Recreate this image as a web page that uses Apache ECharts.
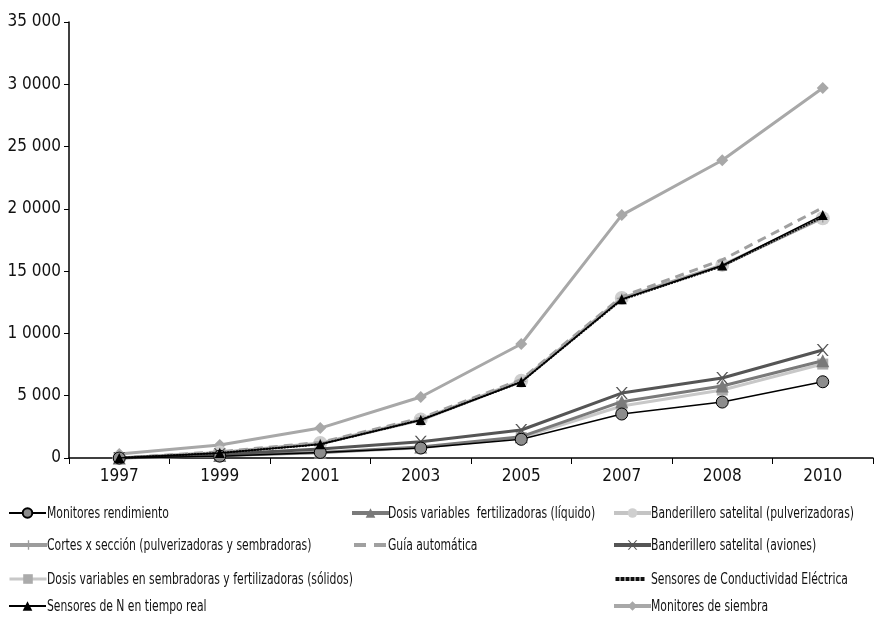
<!DOCTYPE html>
<html><head><meta charset="utf-8">
<script src="https://cdn.jsdelivr.net/npm/echarts@6/dist/echarts.min.js"></script>
<style>html,body{margin:0;padding:0;background:#fff}#c{width:884px;height:624px}</style>
</head><body><div id="c"></div>
<script>
var years = ['1997','1999','2001','2003','2005','2007','2008','2010'];
var yTickLabels = ['0','5 000','1 0000','15 000','2 0000','25 000','3 0000','35 000'];
var monitoresRendimiento = [0, 150, 450, 800, 1500, 3530, 4490, 6120];
var dosisLiquido = [0, 200, 450, 880, 1710, 4520, 5780, 7810];
var bandPulv = [0, 450, 1200, 3100, 6200, 12850, 15500, 19250];
var cortes = [0, 420, 1150, 3050, 6150, 12800, 15450, 19300];
var guia = [0, 500, 1250, 3200, 6300, 12950, 15900, 20100];
var bandAviones = [0, 300, 720, 1310, 2250, 5210, 6420, 8670];
var dosisSolidos = [0, 180, 420, 820, 1650, 4170, 5460, 7540];
var conductividad = [0, 400, 1100, 3050, 6100, 12700, 15400, 19350];
var sensoresN = [0, 400, 1100, 3050, 6100, 12750, 15450, 19500];
var monitoresSiembra = [320, 1050, 2400, 4900, 9150, 19500, 23900, 29700];

var FONT = '"DejaVu Sans Condensed", "Liberation Sans", sans-serif';
var X_PATH = 'path://M0,0L1.4,0L5,3.6L8.6,0L10,0L5.7,4.3L10,8.6L8.6,8.6L5,5L1.4,8.6L0,8.6L4.3,4.3Z';
var PLUS_PATH = 'path://M4.3,0L5.7,0L5.7,4.3L10,4.3L10,5.7L5.7,5.7L5.7,10L4.3,10L4.3,5.7L0,5.7L0,4.3L4.3,4.3Z';
var DASH_ICON = 'path://M0,0H12V4H0Z M20,0H32V4H20Z';
var DOT_ICON = 'path://M0,0H4V4H0Z M5,0H9V4H5Z M10,0H14V4H10Z M15,0H19V4H15Z M20,0H24V4H20Z M25,0H29V4H25Z';

var names = {
  mr: 'Monitores rendimiento',
  dl: 'Dosis variables  fertilizadoras (líquido)',
  bp: 'Banderillero satelital (pulverizadoras)',
  cs: 'Cortes x sección (pulverizadoras y sembradoras)',
  ga: 'Guía automática',
  ba: 'Banderillero satelital (aviones)',
  ds: 'Dosis variables en sembradoras y fertilizadoras (sólidos)',
  ce: 'Sensores de Conductividad Eléctrica',
  sn: 'Sensores de N en tiempo real',
  ms: 'Monitores de siembra'
};

function ser(name, data, lineColor, width, type, symbol, size, markColor, border, z) {
  return {
    name: name, type: 'line', data: data, z: z,
    symbol: symbol, symbolSize: size, showSymbol: symbol !== 'none',
    lineStyle: { color: lineColor, width: width, type: type },
    itemStyle: { color: markColor, borderColor: border || markColor, borderWidth: border ? 1 : 0 },
    emphasis: { disabled: true },
    animation: false
  };
}

var series = [
  ser(names.ms, monitoresSiembra, '#a8a8a8', 3, 'solid', 'diamond', 12, '#a8a8a8', null, 2),
  ser(names.bp, bandPulv, '#c4c4c4', 3, 'solid', 'circle', 14, '#cfcfcf', null, 2),
  ser(names.cs, cortes, '#9c9c9c', 3, 'solid', PLUS_PATH, 10, '#9c9c9c', null, 3),
  ser(names.ga, guia, '#a0a0a0', 3, [9, 6], 'none', 0, '#a0a0a0', null, 3),
  ser(names.ce, conductividad, '#111111', 2, [2, 1], 'none', 0, '#111111', null, 4),
  ser(names.sn, sensoresN, '#000000', 1.5, 'solid', 'triangle', 10, '#000000', null, 5),
  ser(names.ds, dosisSolidos, '#c8c8c8', 3, 'solid', 'rect', 11, '#ababab', null, 2),
  ser(names.dl, dosisLiquido, '#7a7a7a', 3, 'solid', 'triangle', 13, '#7a7a7a', null, 3),
  ser(names.ba, bandAviones, '#555555', 3, 'solid', X_PATH, 12, '#555555', null, 3),
  ser(names.mr, monitoresRendimiento, '#000000', 1.5, 'solid', 'circle', 12, '#8c8c8c', '#000', 4)
];

// [name, iconLeft, textLeft, rowCenterY, legendLineWidth, icon]
var legendPos = [
  [names.mr, 8, 47, 513, 2], [names.dl, 350, 388, 513, 4], [names.bp, 612, 651, 513, 4],
  [names.cs, 8, 47, 545, 4], [names.ga, 354, 388, 545, 0, DASH_ICON], [names.ba, 612, 651, 545, 4],
  [names.ds, 8, 47, 579, 3], [names.ce, 614, 651, 579, 0, DOT_ICON],
  [names.sn, 8, 47, 606, 2], [names.ms, 612, 651, 606, 4]
];
var legends = legendPos.map(function (p) {
  var item = { name: p[0] };
  var h = 12;
  if (p[5]) { item.icon = p[5]; h = 4; }
  var lg = {
    data: [item], left: p[1], top: p[3] - h / 2, orient: 'horizontal',
    itemWidth: p[5] ? 32 : 37, itemHeight: h, itemGap: 0, selectedMode: false,
    formatter: function () { return ''; },
    textStyle: { fontSize: 12, padding: 0 }, padding: 0
  };
  if (p[4]) { lg.lineStyle = { width: p[4] }; }
  return lg;
});
var legendTexts = legendPos.map(function (p) {
  return {
    type: 'text', x: p[2], y: p[3] + 1, scaleX: 0.75, scaleY: 1,
    style: { text: p[0], fontFamily: FONT, fontSize: 16, fill: '#111', verticalAlign: 'middle', align: 'left' },
    silent: true
  };
});

var chart = echarts.init(document.getElementById('c'));
chart.setOption({
  backgroundColor: '#fff',
  animation: false,
  legend: legends,
  graphic: legendTexts,
  grid: { left: 69, right: 11, top: 22, bottom: 166, containLabel: false },
  xAxis: {
    type: 'category', data: years, boundaryGap: true,
    axisLine: { lineStyle: { color: '#000', width: 1.5 } },
    axisTick: { show: true, length: 6, lineStyle: { color: '#000' }, alignWithLabel: false },
    axisLabel: { fontFamily: FONT, fontSize: 17, color: '#111', margin: 10 },
    splitLine: { show: false }
  },
  yAxis: {
    type: 'value', min: 0, max: 35000, interval: 5000,
    axisLine: { show: true, lineStyle: { color: '#000', width: 1.5 } },
    axisTick: { show: true, length: 5, lineStyle: { color: '#000' } },
    axisLabel: {
      fontFamily: FONT, fontSize: 17, color: '#111', margin: 8,
      formatter: function (v) { return yTickLabels[Math.round(v / 5000)]; }
    },
    splitLine: { show: false }
  },
  series: series
});
</script>
</body></html>
